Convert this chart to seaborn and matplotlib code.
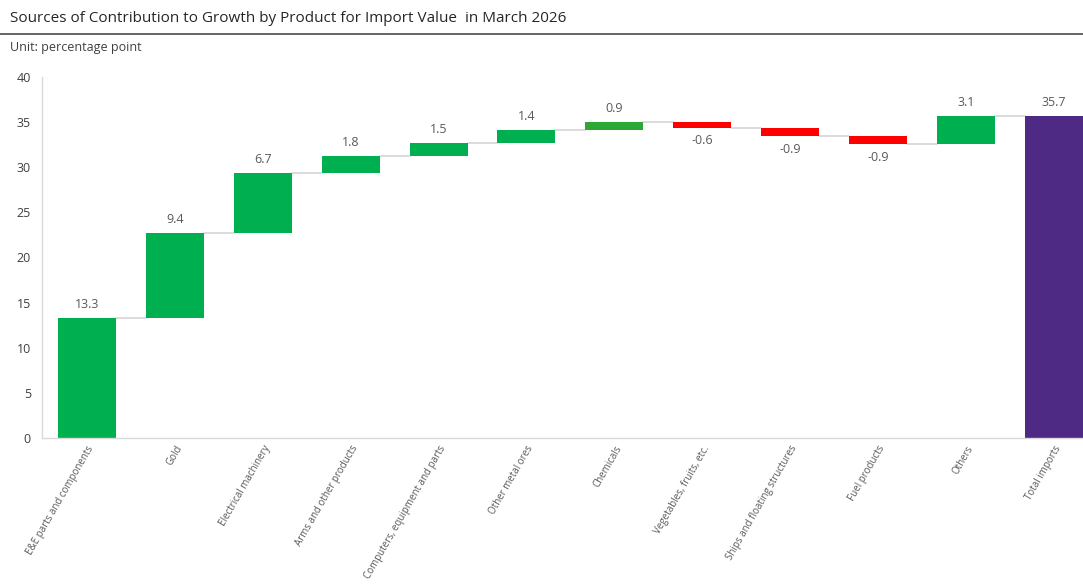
import numpy as np
import pandas as pd
import matplotlib
matplotlib.use("Agg")
import matplotlib.pyplot as plt
import seaborn as sns
from matplotlib.lines import Line2D

categories = ["E&E parts and components", "Gold", "Electrical machinery",
              "Arms and other products", "Computers, equipment and parts",
              "Other metal ores", "Chemicals", "Vegetables, fruits, etc.",
              "Ships and floating structures", "Fuel products", "Others",
              "Total imports"]
contributions = [13.3, 9.4, 6.7, 1.8, 1.5, 1.4, 0.9, -0.6, -0.9, -0.9, 3.1]
total_value = 35.7

title_text = "Sources of Contribution to Growth by Product for Import Value  in March 2026"
unit_text = "Unit: percentage point"

sns.set_theme(style="white")
plt.rcParams["font.family"] = ["Open Sans", "DejaVu Sans"]

# Waterfall geometry
contrib = np.array(contributions)
cum = np.cumsum(contrib)
starts = np.concatenate([[0], cum[:-1]])
bottoms = list(np.minimum(starts, cum)) + [0.0]
heights = list(np.abs(contrib)) + [total_value]
labels_val = list(contrib) + [total_value]
levels = list(cum) + [total_value]

df = pd.DataFrame({"category": categories, "height": heights})

fig = plt.figure(figsize=(10.83, 5.85), dpi=100)
ax = fig.add_axes([42 / 1083, 1 - 438 / 585, 1 - 42 / 1083, (438 - 77) / 585])

green = "#00B050"
sns.barplot(data=df, x="category", y="height", order=categories, ax=ax,
            errorbar=None, width=0.66, bottom=bottoms, linewidth=0,
            color=green, saturation=1)

colors = []
for i, v in enumerate(labels_val):
    if i == len(labels_val) - 1:
        colors.append("#4E2A84")
    elif v < 0:
        colors.append("#FF0000")
    elif categories[i] == "Chemicals":
        colors.append("#2CA836")
    else:
        colors.append(green)
bars = ax.patches[:len(categories)]
for p, c in zip(bars, colors):
    p.set_facecolor(c)
    p.set_edgecolor("none")

# connectors
for i in range(len(categories) - 1):
    x0 = bars[i].get_x() + bars[i].get_width()
    x1 = bars[i + 1].get_x()
    ax.plot([x0, x1], [levels[i], levels[i]], color="#D9D9D9", lw=1.3, zorder=0)

# value labels
for i, (p, v) in enumerate(zip(bars, labels_val)):
    xc = p.get_x() + p.get_width() / 2
    if v >= 0:
        ax.annotate(f"{v:.1f}", (xc, p.get_y() + p.get_height()), xytext=(0, 5),
                    textcoords="offset points", ha="center", va="bottom",
                    fontsize=9, color="#595959")
    else:
        ax.annotate(f"{v:.1f}", (xc, p.get_y()), xytext=(0, -5),
                    textcoords="offset points", ha="center", va="top",
                    fontsize=9, color="#595959")

ax.set_ylim(0, 40)
ax.set_xlim(-0.51, len(categories) - 1 + 0.33)
ax.set_yticks(np.arange(0, 41, 5))
ax.set_xlabel("")
ax.set_ylabel("")
ax.tick_params(axis="y", length=0, labelsize=9, labelcolor="#404040", pad=8)
ax.tick_params(axis="x", length=0, labelsize=7, labelcolor="#595959", pad=4)
plt.setp(ax.get_xticklabels(), rotation=60, ha="right", rotation_mode="anchor")
for s in ["top", "right"]:
    ax.spines[s].set_visible(False)
for s in ["left", "bottom"]:
    ax.spines[s].set_color("#D9D9D9")
    ax.spines[s].set_linewidth(1.0)

fig.text(10 / 1083, 1 - 18 / 585, title_text, ha="left", va="center",
         fontsize=11, color="#262626")
fig.add_artist(Line2D([0, 1], [1 - 34 / 585, 1 - 34 / 585], color="#595959", lw=1.3,
                      transform=fig.transFigure))
fig.text(10 / 1083, 1 - 47 / 585, unit_text, ha="left", va="center",
         fontsize=9, color="#404040")

fig.savefig("out.png", dpi=100)
